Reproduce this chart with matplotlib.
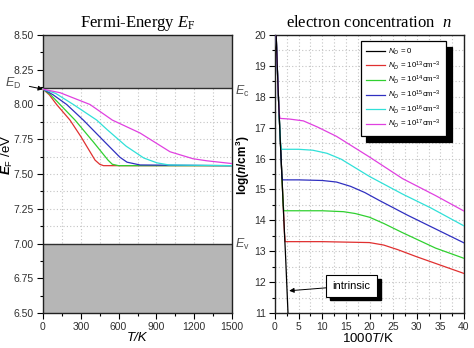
import matplotlib
matplotlib.use("Agg")
import matplotlib.pyplot as plt
import matplotlib.ticker as mticker
import matplotlib.transforms as mtransforms
from matplotlib.patches import Rectangle

plt.rcParams['font.family'] = 'Liberation Sans'
plt.rcParams['mathtext.fontset'] = 'custom'
plt.rcParams['mathtext.rm'] = 'Liberation Sans'
plt.rcParams['mathtext.it'] = 'Liberation Sans:italic'
plt.rcParams['mathtext.bf'] = 'Liberation Sans:bold'
plt.rcParams['mathtext.bfit'] = 'Liberation Sans:italic:bold'
plt.rcParams['mathtext.cal'] = 'Liberation Serif:italic'
plt.rcParams['mathtext.sf'] = 'Liberation Serif'

# ---- band levels (eV) ----
E_C = 8.117
E_V = 7.0
E_D = 8.11

# ---- Fermi energy vs temperature ----
T_13 = [0, 50, 108, 214, 300, 413, 450, 480, 1500]
EF_13 = [8.11, 8.07, 8.0, 7.888, 7.77, 7.60, 7.57, 7.56, 7.56]
T_14 = [0, 60, 135, 254, 400, 516, 550, 600, 1500]
EF_14 = [8.11, 8.07, 8.0, 7.888, 7.73, 7.60, 7.57, 7.56, 7.56]
T_15 = [0, 80, 188, 320, 480, 611, 667, 770, 1500]
EF_15 = [8.11, 8.07, 8.0, 7.888, 7.74, 7.62, 7.585, 7.565, 7.56]
T_16 = [0, 100, 241, 426, 508, 660, 800, 905, 1000, 1500]
EF_16 = [8.11, 8.08, 8.0, 7.888, 7.82, 7.70, 7.615, 7.58, 7.565, 7.56]
T_17 = [0, 135, 373, 550, 770, 1008, 1190, 1300, 1500]
EF_17 = [8.11, 8.085, 8.0, 7.888, 7.795, 7.66, 7.61, 7.595, 7.575]

# ---- log(n) vs 1000/T ----
x_0 = [0.25, 0.5, 0.75, 1.0, 1.25, 1.5, 1.75, 2.0, 2.25, 2.5, 2.75]
n_0 = [20.0, 18.9, 17.9, 17.0, 16.15, 15.3, 14.45, 13.6, 12.8, 11.9, 11.0]
x_13 = [0.25, 0.5, 0.75, 1.0, 1.25, 1.5, 1.75, 2.0, 2.15, 10, 20, 23, 26, 30, 35, 40]
n_13 = [20.0, 18.9, 17.9, 17.0, 16.15, 15.3, 14.45, 13.6, 13.31, 13.31, 13.28, 13.2, 13.05, 12.82, 12.55, 12.28]
x_14 = [0.25, 0.5, 0.75, 1.0, 1.25, 1.5, 1.7, 1.85, 5, 10, 14.5, 17, 20, 23, 27, 34, 40]
n_14 = [20.0, 18.9, 17.9, 17.0, 16.15, 15.3, 14.6, 14.31, 14.31, 14.31, 14.28, 14.22, 14.1, 13.9, 13.6, 13.1, 12.77]
x_15 = [0.25, 0.5, 0.75, 1.0, 1.25, 1.45, 1.6, 5, 10, 13, 16, 19, 22, 28, 34, 40]
n_15 = [20.0, 18.9, 17.9, 17.0, 16.15, 15.45, 15.31, 15.31, 15.29, 15.24, 15.1, 14.9, 14.65, 14.17, 13.72, 13.27]
x_16 = [0.25, 0.5, 0.75, 1.0, 1.2, 1.4, 5, 8, 11, 14, 20, 27, 33, 40]
n_16 = [20.0, 18.9, 17.9, 17.0, 16.45, 16.3, 16.3, 16.27, 16.17, 15.98, 15.42, 14.85, 14.4, 13.82]
x_17 = [0.25, 0.5, 0.75, 0.9, 1.06, 3, 6, 9, 13, 20, 27, 34, 40]
n_17 = [20.0, 18.9, 17.9, 17.45, 17.3, 17.28, 17.22, 17.02, 16.72, 16.05, 15.35, 14.8, 14.3]

labels = [r'$N_D$ = 0',
          r'$N_D$ = 10$^{13}$cm$^{-3}$',
          r'$N_D$ = 10$^{14}$cm$^{-3}$',
          r'$N_D$ = 10$^{15}$cm$^{-3}$',
          r'$N_D$ = 10$^{16}$cm$^{-3}$',
          r'$N_D$ = 10$^{17}$cm$^{-3}$']
colours = ['black', '#e03030', '#30d030', '#3030c0', '#30e0d8', '#e040e0']

fig = plt.figure(figsize=(4.74, 3.48), dpi=100)
ax1 = fig.add_axes([43 / 474, 35 / 348, 189 / 474, 278 / 348])
ax2 = fig.add_axes([275 / 474, 35 / 348, 189 / 474, 278 / 348])

grid_kw = dict(color='#c4c4c4', linestyle=(0, (1, 2)), linewidth=0.8)
for ax in (ax1, ax2):
    for sp in ax.spines.values():
        sp.set_linewidth(1.0)
        sp.set_color('#202020')
    ax.tick_params(which='both', direction='out', labelsize=7.5, labelcolor='#303030',
                   width=0.8, pad=2.5)
    ax.tick_params(which='major', length=4)
    ax.tick_params(which='minor', length=2)
    ax.grid(True, which='both', **grid_kw)
    ax.set_axisbelow(True)

# ---- left: Fermi energy ----
ax1.set_xlim(0, 1500)
ax1.set_ylim(6.5, 8.5)
ax1.xaxis.set_major_locator(mticker.MultipleLocator(300))
ax1.xaxis.set_minor_locator(mticker.MultipleLocator(150))
ax1.yaxis.set_major_locator(mticker.MultipleLocator(0.25))
ax1.yaxis.set_minor_locator(mticker.MultipleLocator(0.125))
ax1.yaxis.set_major_formatter(mticker.FormatStrFormatter('%.2f'))

ax1.axhspan(E_C, 8.5, color='#b6b6b6', zorder=1, lw=0)
ax1.axhspan(6.5, E_V, color='#b6b6b6', zorder=1, lw=0)
ax1.axhline(E_C, color='#303030', lw=1.0, zorder=2)
ax1.axhline(E_V, color='#303030', lw=1.0, zorder=2)

for T, EF, c in zip([T_13, T_14, T_15, T_16, T_17],
                    [EF_13, EF_14, EF_15, EF_16, EF_17], colours[1:]):
    ax1.plot(T, EF, color=c, lw=0.9, zorder=3)

ax1.set_title(r'Fermi-Energy $\mathcal{E}_{\mathsf{F}}$', family='Liberation Serif',
              fontsize=12, pad=6)
ax1.set_xlabel('T/K', style='italic', fontsize=9.5, va='top')
ax1.xaxis.set_label_coords(0.5, -0.07)
ax1.set_ylabel(r'$\mathbfit{E}_{\mathrm{F}}$ /eV', fontsize=9.5)
ax1.yaxis.set_label_coords(-0.15, 0.57)

trans = mtransforms.blended_transform_factory(ax1.transAxes, ax1.transData)
ax1.text(1.015, E_C - 0.02, r'$E_\mathrm{c}$', transform=trans, fontsize=9,
         color='#505050', va='center', ha='left', clip_on=False)
ax1.text(1.015, E_V - 0.01, r'$E_\mathrm{v}$', transform=trans, fontsize=9,
         color='#505050', va='center', ha='left', clip_on=False)
ax1.annotate(r'$E_\mathrm{D}$', xy=(0, E_D), xycoords='data',
             xytext=(13, 348 - 83), textcoords='figure pixels',
             fontsize=9, color='#505050', ha='center', va='center',
             arrowprops=dict(arrowstyle='-|>', color='black', lw=0.7,
                             mutation_scale=7, shrinkA=4, shrinkB=0),
             annotation_clip=False)

# ---- right: electron concentration ----
ax2.set_xlim(0, 40)
ax2.set_ylim(11, 20)
ax2.xaxis.set_major_locator(mticker.MultipleLocator(5))
ax2.xaxis.set_minor_locator(mticker.MultipleLocator(2.5))
ax2.yaxis.set_major_locator(mticker.MultipleLocator(1))
ax2.yaxis.set_minor_locator(mticker.MultipleLocator(0.5))

handles = []
for x, n, c, lab in zip([x_0, x_13, x_14, x_15, x_16, x_17],
                        [n_0, n_13, n_14, n_15, n_16, n_17], colours, labels):
    z = 4 if c == 'black' else 3
    h, = ax2.plot(x, n, color=c, lw=0.9, label=lab, zorder=z)
    handles.append(h)

leg = ax2.legend(handles=handles, loc='upper right', bbox_to_anchor=(0.905, 0.978),
                 borderaxespad=0, fontsize=5.7, frameon=True, fancybox=False,
                 edgecolor='black', framealpha=1, handlelength=2.4,
                 labelspacing=0.28, borderpad=0.7, handletextpad=0.3,
                 shadow={'ox': 4, 'oy': -4, 'color': 'black', 'alpha': 1})
leg.get_frame().set_linewidth(0.9)
leg.set_zorder(6)

ax2.set_title(r'electron concentration  $\mathcal{n}$', family='Liberation Serif',
              fontsize=12, pad=6)
ax2.set_xlabel(r'1000$\mathit{T}$/K', fontsize=9.5, va='top')
ax2.xaxis.set_label_coords(0.49, -0.07)
ax2.set_ylabel(r'log($\mathbfit{n}$/cm$^{\mathbf{3}}$)', fontsize=8.5, fontweight='bold')
ax2.yaxis.set_label_coords(-0.12, 0.53)

# intrinsic label with a hard black drop shadow
shadow_tr = mtransforms.offset_copy(ax2.transData, fig=fig, x=4, y=-4, units='dots')
ax2.add_patch(Rectangle((16.2 - 5.4, 11.88 - 0.345), 10.8, 0.69, transform=shadow_tr,
                        facecolor='black', edgecolor='black', zorder=4.5))
ax2.annotate('intrinsic', xy=(3.0, 11.72), xytext=(16.2, 11.88),
             fontsize=8, ha='center', va='center', zorder=5,
             bbox=dict(boxstyle='square,pad=0.55', fc='white', ec='black', lw=0.8),
             arrowprops=dict(arrowstyle='-|>', color='black', lw=0.7,
                             mutation_scale=7, shrinkA=0, shrinkB=0))

fig.savefig('out.png', dpi=100)
